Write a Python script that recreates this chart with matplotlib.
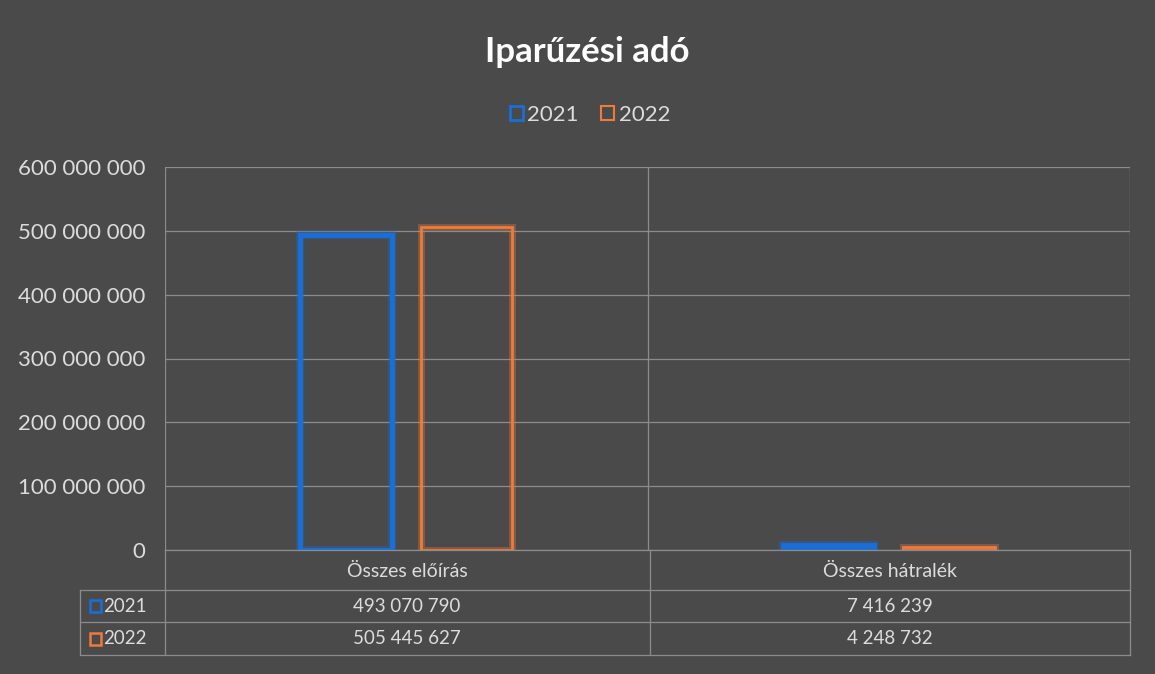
import matplotlib.pyplot as plt
import matplotlib.patheffects as pe
from matplotlib.lines import Line2D
import numpy as np

plt.rcParams['font.family'] = ['Lato', 'DejaVu Sans']

categories = ["Összes előírás", "Összes hátralék"]
years = ["2021", "2022"]
values_2021 = [493070790, 7416239]
values_2022 = [505445627, 4248732]
y_ticks = [0, 100000000, 200000000, 300000000, 400000000, 500000000, 600000000]

bg = "#4a4a4a"
grid_c = "#8c8c8c"
text_c = "#dcdcdc"
blue = "#1a6fd6"
orange = "#ec7b3c"

W, H = 1155, 674
fig = plt.figure(figsize=(W / 100, H / 100), dpi=100, facecolor=bg)


def fx(px):
    return px / W


def fy(py):
    return 1 - py / H


ax = fig.add_axes([fx(165), fy(550), fx(1130) - fx(165), fy(167) - fy(550)])
ax.set_facecolor(bg)

x = np.arange(len(categories))
bw = 0.19
off = 0.125
b1 = ax.bar(x - off, values_2021, bw, facecolor="none", edgecolor=blue, linewidth=3.5)
b2 = ax.bar(x + off, values_2022, bw, facecolor="none", edgecolor=orange, linewidth=2)
for r in b1:
    r.set_path_effects([pe.Stroke(linewidth=6, foreground=blue, alpha=0.35), pe.Normal()])
for r in b2:
    r.set_path_effects([pe.Stroke(linewidth=5, foreground=orange, alpha=0.35), pe.Normal()])

ax.set_xlim(-0.5, 1.5)
ax.set_ylim(0, 600000000)
ax.set_yticks(y_ticks)
ax.set_yticklabels([f"{v:,}".replace(",", " ") for v in y_ticks])
ax.tick_params(axis="y", colors=text_c, labelsize=16, length=0, pad=14)
ax.set_xticks([])
ax.grid(axis="y", color=grid_c, linewidth=0.9)
ax.set_axisbelow(True)
for s in ax.spines.values():
    s.set_visible(False)
ax.axvline(-0.5, color=grid_c, linewidth=0.9)
ax.axvline(0.5, color=grid_c, linewidth=0.9)
ax.axvline(1.5, color=grid_c, linewidth=0.9)

# title and legend
fig.text(fx(587), fy(52), "Iparűzési adó", color="white", fontsize=25, fontweight="bold",
         ha="center", va="center")
leg = ax.legend(
    handles=[plt.Rectangle((0, 0), 1, 1, facecolor="none", edgecolor=blue, linewidth=2),
             plt.Rectangle((0, 0), 1, 1, facecolor="none", edgecolor=orange, linewidth=1.5)],
    labels=years, loc="center", bbox_to_anchor=(fx(590), fy(115)), bbox_transform=fig.transFigure,
    ncol=2, frameon=False, fontsize=16, labelcolor=text_c, handlelength=0.6, handleheight=0.6,
    handletextpad=0.2, columnspacing=1.0)

# data table
lw = 0.9
def hline(y, x0, x1):
    fig.add_artist(Line2D([fx(x0), fx(x1)], [fy(y), fy(y)], color=grid_c, linewidth=lw))


def vline(xp, y0, y1):
    fig.add_artist(Line2D([fx(xp), fx(xp)], [fy(y0), fy(y1)], color=grid_c, linewidth=lw))


hline(550, 165, 1130)
for yy in (590, 622, 655):
    hline(yy, 80, 1130)
vline(80, 590, 655)
for xx in (165, 650, 1130):
    vline(xx, 550, 655)

col_centers = [407, 890]
for cx, cat in zip(col_centers, categories):
    fig.text(fx(cx), fy(571), cat, color=text_c, fontsize=14, ha="center", va="center")

rows = [(years[0], values_2021, blue, 606), (years[1], values_2022, orange, 639)]
for label, vals, col, yy in rows:
    fig.add_artist(plt.Rectangle((fx(90), fy(yy) - 0.009), 0.0095, 0.018, transform=fig.transFigure,
                                 facecolor="none", edgecolor=col, linewidth=1.8))
    fig.text(fx(103), fy(yy), label, color=text_c, fontsize=13.5, ha="left", va="center")
    for cx, v in zip(col_centers, vals):
        fig.text(fx(cx), fy(yy), f"{v:,}".replace(",", " "), color=text_c, fontsize=13.5,
                 ha="center", va="center")

fig.savefig("out.png", dpi=100, facecolor=bg)
